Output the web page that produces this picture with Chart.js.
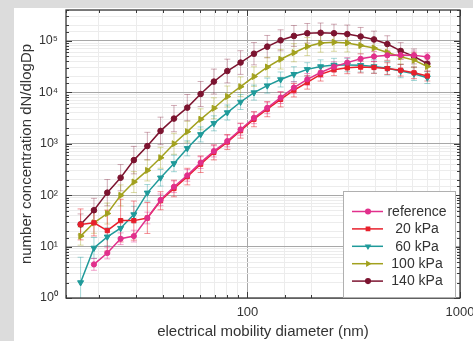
<!DOCTYPE html>
<html>
<head>
<meta charset="utf-8">
<script src="https://cdn.jsdelivr.net/npm/chart.js@4/dist/chart.umd.min.js"></script>
<style>
  html, body { margin: 0; padding: 0; }
  body { width: 473px; height: 341px; background: #dcdcdc; position: relative; overflow: hidden; }
  #panel { position: absolute; left: 14px; top: 8px; right: 0; bottom: 0; background: #fff; }
  #wrap { position: absolute; left: 0; top: 0; width: 473px; height: 341px; }
</style>
</head>
<body>
<div id="panel"></div>
<div id="wrap"><canvas id="chart"></canvas></div>
<script>
// electrical mobility diameter (nm) of each size bin
const diameters = [16.4, 18.95, 21.9, 25.3, 29.2, 33.8, 39.0, 45.1, 52.1, 60.2, 69.5, 80.4, 92.8, 107.3,
  123.9, 143.2, 165.4, 191.2, 220.9, 255.3, 294.9, 340.8, 393.8, 455, 525.7, 607.4, 701.9];

const seriesNames = ['reference', '20 kPa', '60 kPa', '100 kPa', '140 kPa'];

// dN/dlogDp
const reference = [null, 4.5, 7.5, 14.2, 16, 36, 81, 146, 243, 430, 720, 1130, 1900, 3200, 5000, 7900,
  12400, 17900, 24300, 31500, 37900, 45000, 49900, 52700, 53300, 53000, 48800];
const kPa20 = [27, 29, 20.5, 32, 32, 36, 78, 135, 230, 400, 680, 1080, 1800, 3000, 4700, 7300,
  11000, 15600, 22400, 27500, 30000, 31000, 30500, 29000, 27000, 24000, 20800];
const kPa60 = [2.0, 9.4, 15.5, 22.8, 42, 111, 218, 415, 815, 1520, 2500, 4050, 6500, 9900, 13500, 17800,
  22500, 28000, 31800, 34000, 34000, 33500, 31800, 29300, 26000, 23000, 19300];
const kPa100 = [16, 29, 44, 99, 180, 303, 535, 1000, 1720, 2990, 4900, 8300, 12900, 20300, 31000, 44000,
  59000, 78000, 90800, 94400, 91600, 81700, 72800, 59700, 49200, 42400, 31900];
const kPa140 = [27, 51, 112, 219, 481, 903, 1780, 3090, 5050, 9300, 16200, 26000, 38000, 56500, 77500,
  103000, 125000, 141000, 144000, 141000, 136000, 122000, 107000, 87000, 64000, 50000, 36000];

// error bars, as a factor above / below the value
const referenceErr = [0, 1.3, 1.3, 1.3, 1.3, 1.3, 1.3, 1.3, 1.3, 1.3, 1.3, 1.3, 1.3, 1.3, 1.3, 1.3,
  1.3, 1.3, 1.25, 1.25, 1.25, 1.25, 1.25, 1.25, 1.2, 1.2, 1.2];
const kPa20Err = [2.0, 1.8, 2.5, 2.6, 2.4, 2.0, 1.5, 1.45, 1.45, 1.45, 1.4, 1.4, 1.4, 1.4, 1.4, 1.4,
  1.35, 1.35, 1.35, 1.3, 1.3, 1.3, 1.3, 1.3, 1.3, 1.3, 1.25];
const kPa60Err = [3.1, 1.6, 1.5, 1.5, 1.45, 1.45, 1.45, 1.45, 1.4, 1.4, 1.4, 1.4, 1.4, 1.4, 1.4, 1.4,
  1.4, 1.35, 1.35, 1.35, 1.35, 1.35, 1.35, 1.35, 1.35, 1.35, 1.3];
const kPa100Err = [1.5, 1.6, 1.6, 1.6, 1.6, 1.6, 1.6, 1.6, 1.6, 1.6, 1.6, 1.6, 1.55, 1.55, 1.55, 1.55,
  1.5, 1.5, 1.5, 1.5, 1.5, 1.45, 1.45, 1.45, 1.4, 1.4, 1.4];
const kPa140Err = [1.6, 1.7, 1.8, 1.8, 1.85, 1.85, 1.85, 1.8, 1.8, 1.75, 1.75, 1.7, 1.7, 1.65, 1.65, 1.6,
  1.6, 1.55, 1.55, 1.5, 1.5, 1.5, 1.45, 1.45, 1.45, 1.4, 1.4];

const supDigits = ['\u2070', '\u00b9', '\u00b2', '\u00b3', '\u2074', '\u2075', '\u2076'];
const FONT = "'Liberation Sans', Arial, sans-serif";
const TEXT = '#333';

function isDecade(v) {
  const l = Math.log10(v);
  return Math.abs(l - Math.round(l)) < 1e-9;
}

function makeSet(label, values, errs, color, errColor, style, radius, rotation) {
  const pts = [];
  diameters.forEach((d, i) => {
    if (values[i] != null) pts.push({ x: d, y: values[i], err: errs[i] });
  });
  return {
    label: label,
    data: pts,
    borderColor: color,
    backgroundColor: color,
    borderWidth: 1.5,
    pointStyle: style,
    pointRadius: radius,
    pointRotation: rotation,
    pointBorderWidth: 1,
    pointBackgroundColor: color,
    pointBorderColor: color,
    errColor: errColor,
    tension: 0
  };
}

const datasets = [
  makeSet(seriesNames[0], reference, referenceErr, '#e1308c', 'rgba(225,48,140,0.45)', 'circle', 2.6, 0),
  makeSet(seriesNames[1], kPa20, kPa20Err, '#e8202c', 'rgba(232,32,44,0.5)', 'rect', 3, 0),
  makeSet(seriesNames[2], kPa60, kPa60Err, '#1f9a9a', 'rgba(31,154,154,0.4)', 'triangle', 3.5, 180),
  makeSet(seriesNames[3], kPa100, kPa100Err, '#a2a11e', 'rgba(162,161,30,0.4)', 'triangle', 3.5, 90),
  makeSet(seriesNames[4], kPa140, kPa140Err, '#7c1430', 'rgba(124,20,48,0.35)', 'circle', 2.8, 0)
];

const errorBars = {
  id: 'errorBars',
  beforeDatasetsDraw(chart) {
    const ctx = chart.ctx;
    const a = chart.chartArea;
    const ys = chart.scales.y;
    ctx.save();
    ctx.beginPath();
    ctx.rect(a.left, a.top, a.right - a.left, a.bottom - a.top);
    ctx.clip();
    for (let i = chart.data.datasets.length - 1; i >= 0; i--) {
      const ds = chart.data.datasets[i];
      const meta = chart.getDatasetMeta(i);
      ctx.strokeStyle = ds.errColor;
      ctx.lineWidth = 1;
      meta.data.forEach((el, j) => {
        const p = ds.data[j];
        if (!p.err) return;
        const yHi = ys.getPixelForValue(p.y * p.err);
        const yLo = ys.getPixelForValue(p.y / p.err);
        const x = el.x;
        ctx.beginPath();
        ctx.moveTo(x, yHi); ctx.lineTo(x, yLo);
        ctx.moveTo(x - 3, yHi); ctx.lineTo(x + 3, yHi);
        ctx.moveTo(x - 3, yLo); ctx.lineTo(x + 3, yLo);
        ctx.stroke();
      });
    }
    ctx.restore();
  }
};

const frameAndTicks = {
  id: 'frameAndTicks',
  afterDatasetsDraw(chart) {
    const ctx = chart.ctx;
    const a = chart.chartArea;
    const xs = chart.scales.x, ys = chart.scales.y;
    ctx.save();
    ctx.strokeStyle = '#3a3a3a';
    ctx.lineWidth = 1;
    ctx.beginPath();
    xs.ticks.forEach(t => {
      const px = Math.round(xs.getPixelForValue(t.value)) + 0.5;
      const len = isDecade(t.value) ? 6 : 3;
      ctx.moveTo(px, a.bottom); ctx.lineTo(px, a.bottom - len);
      ctx.moveTo(px, a.top); ctx.lineTo(px, a.top + len);
    });
    ys.ticks.forEach(t => {
      const py = Math.round(ys.getPixelForValue(t.value)) + 0.5;
      const len = isDecade(t.value) ? 6 : 3;
      ctx.moveTo(a.left, py); ctx.lineTo(a.left + len, py);
      ctx.moveTo(a.right, py); ctx.lineTo(a.right - len, py);
    });
    ctx.stroke();
    ctx.lineWidth = 1.3;
    ctx.strokeRect(a.left, a.top, a.right - a.left, a.bottom - a.top);
    ctx.restore();
  }
};

const boxLegend = {
  id: 'boxLegend',
  afterDraw(chart) {
    const ctx = chart.ctx;
    const a = chart.chartArea;
    const w = 112, h = 106;
    const x0 = a.right - 5 - w, y0 = a.bottom - 1 - h;
    ctx.save();
    ctx.fillStyle = '#fff';
    ctx.fillRect(x0, y0, w, h);
    ctx.strokeStyle = '#b0b0b0';
    ctx.lineWidth = 1;
    ctx.strokeRect(x0 + 0.5, y0 + 0.5, w, h);
    ctx.font = '14px ' + FONT;
    ctx.textAlign = 'center';
    ctx.textBaseline = 'middle';
    chart.data.datasets.forEach((ds, i) => {
      const y = y0 + 20.5 + i * 17.4;
      ctx.strokeStyle = ds.borderColor;
      ctx.lineWidth = 1.5;
      ctx.beginPath();
      ctx.moveTo(x0 + 9, y); ctx.lineTo(x0 + 40, y);
      ctx.stroke();
      ctx.fillStyle = ds.borderColor;
      Chart.helpers.drawPoint(ctx, {
        pointStyle: ds.pointStyle, rotation: ds.pointRotation, radius: 2.3, borderWidth: 1
      }, x0 + 25, y);
      ctx.fillStyle = TEXT;
      ctx.fillText(ds.label, x0 + 74, y + 0.5);
    });
    ctx.restore();
  }
};

const gridColor = ctx => (ctx.tick && isDecade(ctx.tick.value)) ? '#a8a8a8' : '#ececec';

new Chart(document.getElementById('chart'), {
  type: 'line',
  data: { datasets: datasets },
  options: {
    responsive: true,
    maintainAspectRatio: false,
    animation: false,
    layout: { padding: { left: 11, top: 10, right: 13, bottom: 0 } },
    plugins: {
      legend: { display: false },
      tooltip: { enabled: false }
    },
    scales: {
      x: {
        type: 'logarithmic',
        min: 14,
        max: 1000,
        grid: { color: gridColor, drawTicks: false, lineWidth: 1 },
        border: { display: false },
        ticks: {
          autoSkip: false,
          maxRotation: 0,
          padding: 7,
          color: TEXT,
          font: { family: FONT, size: 13 },
          callback: v => (v === 100 || v === 1000) ? String(v) : ''
        },
        title: {
          display: true,
          text: 'electrical mobility diameter (nm)',
          color: TEXT,
          font: { family: FONT, size: 15 },
          padding: { top: 0, bottom: 0 }
        },
        afterFit(scale) {
          scale.height = 43;
          scale.paddingLeft = 0;
          scale.paddingRight = 0;
        }
      },
      y: {
        type: 'logarithmic',
        min: 1,
        max: 4e5,
        grid: { color: gridColor, drawTicks: false, lineWidth: 1 },
        border: { display: false },
        ticks: {
          autoSkip: false,
          padding: 8,
          color: TEXT,
          font: { family: FONT, size: 12.5 },
          callback: v => isDecade(v) ? '10' + supDigits[Math.round(Math.log10(v))] : ''
        },
        title: {
          display: true,
          text: 'number concentration dN/dlogDp',
          color: TEXT,
          font: { family: FONT, size: 15 },
          padding: { top: 7, bottom: 0 }
        },
        afterFit(scale) {
          scale.width = 55;
          scale.paddingTop = 0;
          scale.paddingBottom = 0;
        }
      }
    }
  },
  plugins: [errorBars, frameAndTicks, boxLegend]
});
</script>
</body>
</html>
